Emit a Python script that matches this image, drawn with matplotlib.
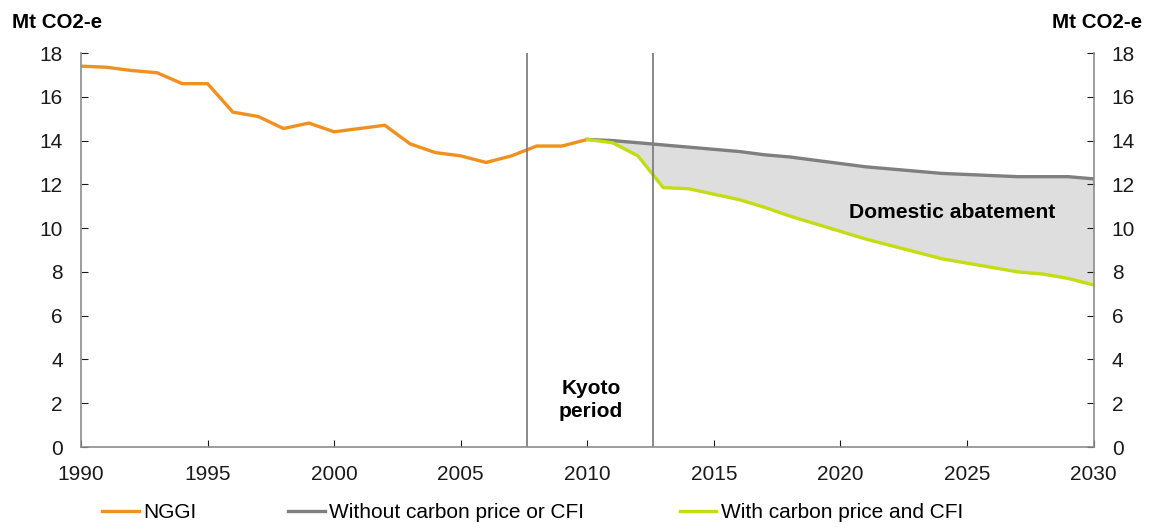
import numpy as np
import matplotlib.pyplot as plt

plt.rcParams['font.family'] = ['Liberation Sans', 'DejaVu Sans']

# NGGI historic emissions
anios_hist = list(range(1990, 2011))
nggi = [17.4, 17.35, 17.2, 17.1, 16.6, 16.6, 15.3, 15.1, 14.55, 14.8, 14.4,
        14.55, 14.7, 13.85, 13.45, 13.3, 13.0, 13.3, 13.75, 13.75, 14.05]

# projections
anios_proy = list(range(2010, 2031))
sin_precio = [14.05, 14.0, 13.9, 13.8, 13.7, 13.6, 13.5, 13.35, 13.25, 13.1, 12.95,
              12.8, 12.7, 12.6, 12.5, 12.45, 12.4, 12.35, 12.35, 12.35, 12.25]
con_precio = [14.05, 13.9, 13.3, 11.85, 11.8, 11.55, 11.3, 10.95, 10.55, 10.2, 9.85,
              9.5, 9.2, 8.9, 8.6, 8.4, 8.2, 8.0, 7.9, 7.7, 7.4]

kyoto = [2007.6, 2012.6]

c_naranja = '#f0901e'
c_gris = '#7f7f7f'
c_verde = '#c4dc14'
c_relleno = '#dedede'
c_eje = '#8c8c8c'

fig = plt.figure(figsize=(11.5, 5.27), dpi=100)
ax = fig.add_axes([0.0704, 0.1518, 0.8806, 0.7476])

ax.fill_between(anios_proy, sin_precio, con_precio, color=c_relleno, lw=0)
l1, = ax.plot(anios_hist, nggi, color=c_naranja, lw=2.4, label='NGGI')
l2, = ax.plot(anios_proy, sin_precio, color=c_gris, lw=2.4, label='Without carbon price or CFI')
l3, = ax.plot(anios_proy, con_precio, color=c_verde, lw=2.4, label='With carbon price and CFI')
for k in kyoto:
    ax.axvline(k, color=c_gris, lw=1.3)

ax.set_xlim(1990, 2030)
ax.set_ylim(0, 18)
ax.set_xticks(np.arange(1990, 2031, 5))
ax.set_yticks(np.arange(0, 19, 2))
ax.tick_params(axis='both', labelsize=15, colors='#1a1a1a', direction='in', length=5)
ax.tick_params(axis='y', right=True, labelright=True, pad=13)
ax.tick_params(axis='x', pad=13)
for t in ax.get_xticklines() + ax.get_yticklines():
    t.set_color(c_eje)

ax.spines['top'].set_visible(False)
for s in ['left', 'right', 'bottom']:
    ax.spines[s].set_color(c_eje)
    ax.spines[s].set_linewidth(1.2)

fig.text(0.010, 0.958, 'Mt CO2-e', fontsize=14.8, fontweight='bold', ha='left', va='center')
fig.text(0.993, 0.958, 'Mt CO2-e', fontsize=14.8, fontweight='bold', ha='right', va='center')

ax.text(2010.15, 2.15, 'Kyoto\nperiod', fontsize=15, fontweight='bold', ha='center',
        va='center', linespacing=1.25)
ax.text(2024.4, 10.73, 'Domestic abatement', fontsize=15.2, fontweight='bold',
        ha='center', va='center')

# leyendas separadas
posiciones = [0.0817, 0.2435, 0.584]
for h, x in zip([l1, l2, l3], posiciones):
    fig.legend(handles=[h], loc='center left', bbox_to_anchor=(x, 0.027), frameon=False,
               fontsize=15, handlelength=1.75, handletextpad=0.2, borderaxespad=0)

fig.savefig('out.png', dpi=100)
